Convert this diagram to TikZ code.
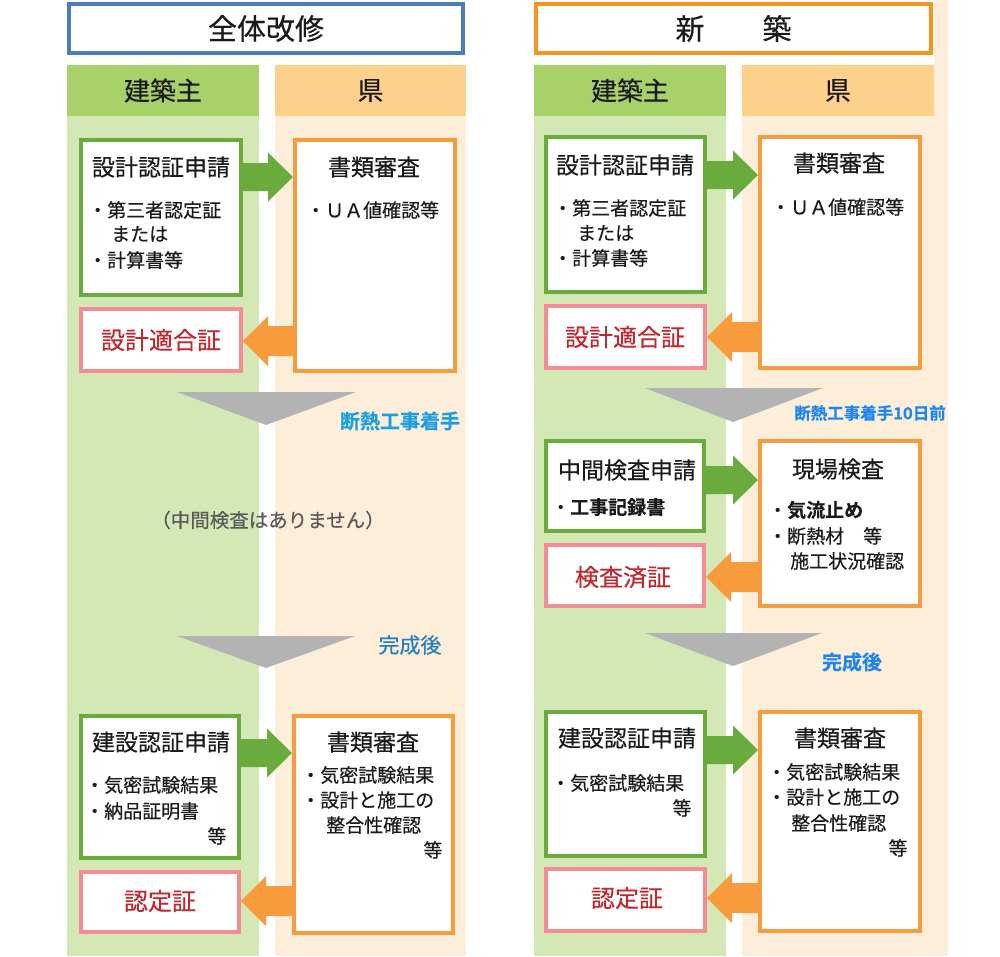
\documentclass[tikz,border=0pt]{standalone}
\usepackage{fontspec}
\setmainfont{Noto Sans CJK JP}[FakeBold=0.35, BoldFont={Noto Sans CJK JP Bold}]
\usetikzlibrary{calc}
\definecolor{tblue}{HTML}{4A7EBB}
\definecolor{torange}{HTML}{F7941D}
\definecolor{hgreen}{HTML}{A8D16A}
\definecolor{lgreen}{HTML}{D3E8B5}
\definecolor{horange}{HTML}{FDD08B}
\definecolor{lorange}{HTML}{FDEEDA}
\definecolor{bgreen}{HTML}{6AAB3E}
\definecolor{borange}{HTML}{F89B3C}
\definecolor{bpink}{HTML}{F58B95}
\definecolor{certred}{HTML}{C1272D}
\definecolor{trigray}{HTML}{B3B3B3}
\definecolor{lblcyan}{HTML}{1C9FE0}
\definecolor{lblblue}{HTML}{2180C4}
\definecolor{lblbright}{HTML}{1A85F5}
\definecolor{notegray}{HTML}{595959}
\definecolor{txt}{HTML}{1A1A1A}
\newcommand\fs[1]{\fontsize{#1}{#1}\selectfont}
\newcommand\mkbox[7]{\node[#2, minimum width={#5-#3-4}, minimum height={#6-#4-4}] (#1) at ({(#3+#5)/2},{(#4+#6)/2}) {#7};}
\newcommand\mkfill[7]{\node[#2, minimum width={#5-#3}, minimum height={#6-#4}] (#1) at ({(#3+#5)/2},{(#4+#6)/2}) {#7};}
\newcommand\rarrow[3]{%
  \coordinate (arY) at (0,#3);
  \fill[garrow] let \p1=(#1.east |- arY), \p2=(#2.west |- arY) in
    (\x1,\y1+14) -- (\x2-25,\y1+14) -- (\x2-25,\y1+24.5) -- (\x2,\y1) -- (\x2-25,\y1-24.5) -- (\x2-25,\y1-14) -- (\x1,\y1-14) -- cycle;}
\newcommand\larrow[3]{%
  \coordinate (arY) at (0,#3);
  \fill[oarrow] let \p1=(#1.west |- arY), \p2=(#2.east |- arY) in
    (\x1,\y1+15) -- (\x2+25,\y1+15) -- (\x2+25,\y1+25) -- (\x2,\y1) -- (\x2+25,\y1-25) -- (\x2+25,\y1-15) -- (\x1,\y1-15) -- cycle;}
\tikzset{
  framebox/.style={draw=#1, line width=4pt, fill=white, inner sep=0pt},
  fillbox/.style={fill=#1, draw=none, inner sep=0pt, outer sep=0pt},
  garrow/.style={fill=bgreen},
  oarrow/.style={fill=borange},
  tri/.style={fill=trigray},
  ttl/.style={font=\fs{23}, text=txt, inner sep=0pt},
  itm/.style={font=\fs{19}, text=txt, inner sep=0pt, anchor=west},
  itmc/.style={font=\fs{19}, text=txt, inner sep=0pt},
  cert/.style={font=\fs{24}, text=certred, inner sep=0pt},
}
\begin{document}
\begin{tikzpicture}[x=1pt,y=-1pt]
\useasboundingbox (0,0) rectangle (1000,956);
\fill[white] (0,0) rectangle (1000,956);
% column backgrounds
\fill[lgreen] (67,116) rectangle (259,956);
\fill[lorange] (275,116) rectangle (466,956);
\fill[lgreen] (534,116) rectangle (726,956);
\fill[lorange] (742,116) rectangle (948,956);
\fill[lorange] (934,0) rectangle (948,116);
% titles
\mkbox{ttlL}{framebox=tblue, font=\fs{29}, text=txt}{67}{2}{465}{55}{全体改修}
\mkbox{ttlR}{framebox=torange, font=\fs{29}, text=txt}{534}{2}{933}{55}{新　　築}
% headers
\mkfill{hLg}{fillbox=hgreen, font=\fs{26}, text=txt}{67}{65}{259}{116}{建築主}
\mkfill{hLo}{fillbox=horange, font=\fs{26}, text=txt}{275}{65}{466}{116}{県}
\mkfill{hRg}{fillbox=hgreen, font=\fs{26}, text=txt}{534}{65}{726}{116}{建築主}
\mkfill{hRo}{fillbox=horange, font=\fs{26}, text=txt}{742}{65}{934}{116}{県}
% triangles
\fill[tri] (177,392) -- (356,392) -- (266,425) -- cycle;
\fill[tri] (177,636) -- (355,636) -- (266,668) -- cycle;
\fill[tri] (645,388) -- (823,388) -- (733,422) -- cycle;
\fill[tri] (645,633) -- (822,633) -- (733,666) -- cycle;
% left boxes
\mkbox{lb1}{framebox=bgreen}{79}{138}{243}{297}{}
\mkbox{lb2}{framebox=borange}{293}{138}{457}{373}{}
\mkbox{lb3}{framebox=bpink}{79}{307}{243}{373}{}
\mkbox{lb4}{framebox=bgreen}{79}{714}{241}{860}{}
\mkbox{lb5}{framebox=borange}{292}{714}{455}{935}{}
\mkbox{lb6}{framebox=bpink}{79}{870}{241}{934}{}
% right boxes
\mkbox{rb1}{framebox=bgreen}{544}{135}{707}{294}{}
\mkbox{rb2}{framebox=borange}{758}{135}{922}{370}{}
\mkbox{rb3}{framebox=bpink}{544}{304}{707}{370}{}
\mkbox{rb4}{framebox=bgreen}{544}{439}{706}{533}{}
\mkbox{rb5}{framebox=borange}{758}{439}{922}{608}{}
\mkbox{rb6}{framebox=bpink}{544}{543}{706}{608}{}
\mkbox{rb7}{framebox=bgreen}{544}{710}{707}{858}{}
\mkbox{rb8}{framebox=borange}{758}{710}{922}{933}{}
\mkbox{rb9}{framebox=bpink}{544}{867}{707}{933}{}
% arrows
\rarrow{lb1}{lb2}{177}
\larrow{lb2}{lb3}{341}
\rarrow{lb4}{lb5}{753}
\larrow{lb5}{lb6}{901}
\rarrow{rb1}{rb2}{175}
\larrow{rb2}{rb3}{337}
\rarrow{rb4}{rb5}{480}
\larrow{rb5}{rb6}{577}
\rarrow{rb7}{rb8}{750}
\larrow{rb8}{rb9}{898}
% left texts
\node[ttl] (lt1t) at (161,167) {設計認証申請};
\node[itm] (lt1a) at (88,210) {・第三者認定証};
\node[itm] (lt1b) at (111,234) {または};
\node[itm] (lt1c) at (88,260) {・計算書等};
\node[ttl] (lt2t) at (374,167) {書類審査};
\node[itm] (lt2a) at (306,210) {・ＵＡ値確認等};
\node[cert] (lt3t) at (161,340) {設計適合証};
\node[font=\fs{20}\bfseries, text=lblcyan, inner sep=0pt] (lblL1) at (400,421) {断熱工事着手};
\node[font=\fs{19.5}, text=notegray, inner sep=0pt] (noteL) at (268,520) {（中間検査はありません）};
\node[font=\fs{21}, text=lblblue, inner sep=0pt] (lblL2) at (410,645) {完成後};
\node[ttl] (lt4t) at (161,742) {建設認証申請};
\node[itm] (lt4a) at (85,785) {・気密試験結果};
\node[itm] (lt4b) at (85,811) {・納品証明書};
\node[itmc] (lt4c) at (217,836) {等};
\node[ttl] (lt5t) at (373,742) {書類審査};
\node[itm] (lt5a) at (301,775) {・気密試験結果};
\node[itm] (lt5b) at (301,800) {・設計と施工の};
\node[itm] (lt5c) at (326,825) {整合性確認};
\node[itmc] (lt5d) at (433,850) {等};
\node[cert] (lt6t) at (160,901) {認定証};
% right texts
\node[ttl] (rt1t) at (625,165) {設計認証申請};
\node[itm] (rt1a) at (553,208) {・第三者認定証};
\node[itm] (rt1b) at (577,233) {または};
\node[itm] (rt1c) at (553,258) {・計算書等};
\node[ttl] (rt2t) at (839,163) {書類審査};
\node[itm] (rt2a) at (771,207) {・ＵＡ値確認等};
\node[cert] (rt3t) at (625,337) {設計適合証};
\node[font=\fs{16.5}\bfseries, text=lblbright, inner sep=0pt] (lblR1) at (870,413) {断熱工事着手10日前};
\node[ttl] (rt4t) at (627,470) {中間検査申請};
\node[itm] (rt4a) at (551,507) {・{\bfseries 工事記録書}};
\node[ttl] (rt5t) at (838,469) {現場検査};
\node[itm] (rt5a) at (768,510) {・{\bfseries 気流止め}};
\node[itm] (rt5b) at (768,536) {・断熱材　等};
\node[itm] (rt5c) at (790,561) {施工状況確認};
\node[cert] (rt6t) at (623,577) {検査済証};
\node[font=\fs{20}\bfseries, text=lblbright, inner sep=0pt] (lblR2) at (852,662) {完成後};
\node[ttl] (rt7t) at (627,738) {建設認証申請};
\node[itm] (rt7a) at (551,783) {・気密試験結果};
\node[itmc] (rt7b) at (682,808) {等};
\node[ttl] (rt8t) at (840,738) {書類審査};
\node[itm] (rt8a) at (767,772) {・気密試験結果};
\node[itm] (rt8b) at (767,797) {・設計と施工の};
\node[itm] (rt8c) at (791,823) {整合性確認};
\node[itmc] (rt8d) at (898,848) {等};
\node[cert] (rt9t) at (627,898) {認定証};
\end{tikzpicture}
\end{document}
